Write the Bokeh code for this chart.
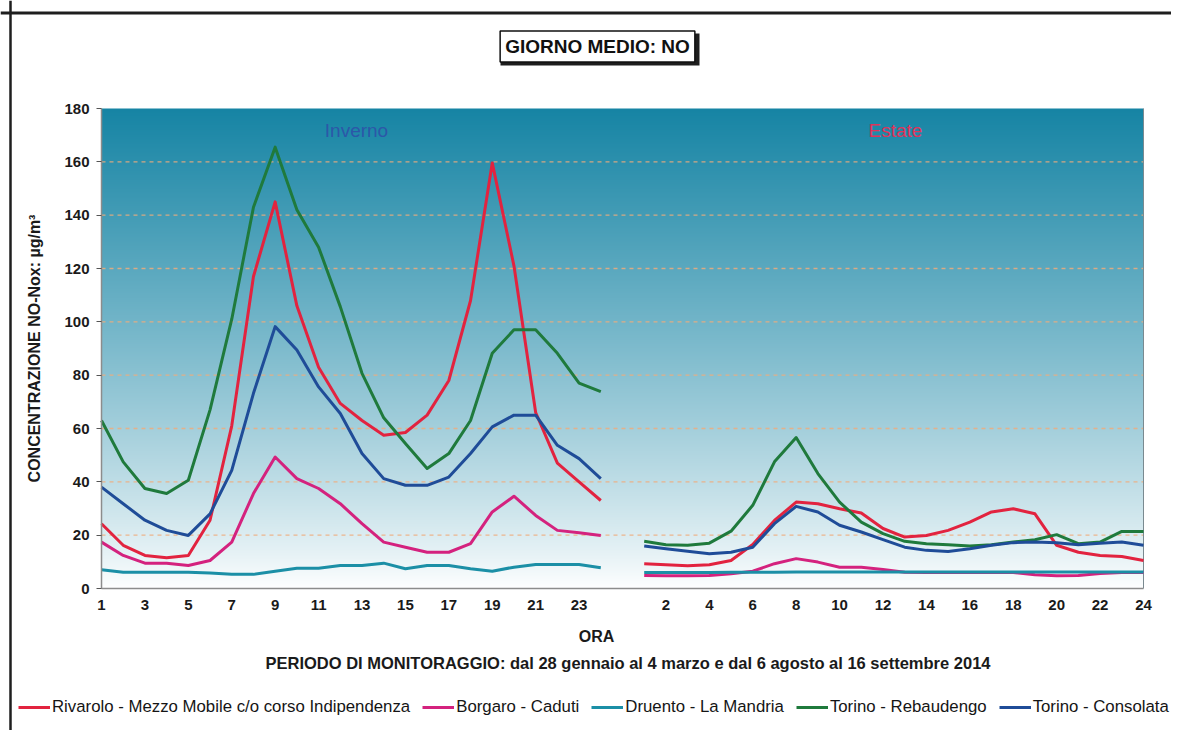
import numpy as np
from bokeh.plotting import figure
from bokeh.models import (Range1d, FixedTicker, Label, Legend, LegendItem,
                          ColumnDataSource, BoxAnnotation, Span)
from bokeh.embed import file_html
from bokeh.resources import INLINE

# ---------------- data ----------------
hours = list(range(1, 25))

stations = ["Rivarolo - Mezzo Mobile c/o corso Indipendenza", "Borgaro - Caduti",
            "Druento - La Mandria", "Torino - Rebaudengo", "Torino - Consolata"]
colors = ["#e2233f", "#d4227e", "#1b8fa6", "#1f7a3c", "#1f4c98"]

# Inverno (winter)
w_rivarolo = [24.3, 16.2, 12.4, 11.5, 12.4, 25.6, 61, 117, 145, 106, 83, 69.4,
              63, 57.5, 58.5, 65, 78, 108, 159.6, 121, 66, 47, 40, 33]
w_borgaro = [17.4, 12.4, 9.5, 9.5, 8.6, 10.5, 17.4, 35.6, 49.3, 41.2, 37.5, 31.8,
             24.3, 17.4, 15.5, 13.6, 13.6, 16.8, 28.7, 34.6, 27.4, 21.8, 20.9, 19.9]
w_druento = [7, 6.1, 6.1, 6.1, 6.1, 5.8, 5.3, 5.3, 6.5, 7.6, 7.6, 8.6,
             8.6, 9.5, 7.4, 8.6, 8.6, 7.4, 6.5, 8, 9, 9, 9, 7.8]
w_rebaudengo = [63, 47.5, 37.5, 35.6, 40.6, 67, 101, 143, 165.5, 142, 128, 105.7,
                80.7, 64, 54.4, 45, 50.6, 63, 88.2, 97, 97, 88.2, 77, 73.8]
w_consolata = [38, 31.8, 25.6, 21.8, 19.9, 28, 44.3, 73.2, 98.2, 89.4, 75.6, 65.6,
               50.6, 41.2, 38.7, 38.7, 41.8, 50.6, 60.6, 65, 65, 53.7, 48.7, 41.2]

# Estate (summer)
s_rivarolo = [9.3, 8.9, 8.5, 8.9, 10.5, 16.5, 25.5, 32.4, 31.8, 29.9, 28.3, 22.5,
              19.3, 19.9, 21.8, 24.9, 28.7, 29.9, 28, 16.2, 13.6, 12.4, 12, 10.5]
s_borgaro = [4.9, 4.8, 4.8, 4.9, 5.5, 6.5, 9.3, 11.2, 9.9, 8, 8, 7.1,
             6.1, 6.0, 6.0, 6.0, 6.0, 6.0, 5.2, 4.8, 4.9, 5.6, 6.0, 6.0]
s_druento = [6.0, 6.0, 6.0, 6.0, 6.1, 6.1, 6.1, 6.2, 6.2, 6.2, 6.2, 6.2,
             6.2, 6.2, 6.2, 6.2, 6.2, 6.2, 6.2, 6.2, 6.2, 6.2, 6.2, 6.2]
s_rebaudengo = [17.7, 16.4, 16.2, 17, 21.5, 31.2, 47.5, 56.6, 43.1, 32.4, 24.9, 20.6,
                17.7, 16.8, 16.4, 15.9, 16.4, 17.4, 18.3, 20.2, 16.8, 17.4, 21.4, 21.4]
s_consolata = [15.9, 14.9, 14, 13, 13.6, 15.5, 24.3, 30.8, 28.7, 23.7, 21.2, 18.3,
               15.5, 14.3, 13.9, 14.9, 16.2, 17.2, 17.4, 17.2, 16.4, 17, 17.4, 16.2]

winter = [w_rivarolo, w_borgaro, w_druento, w_rebaudengo, w_consolata]
summer = [s_rivarolo, s_borgaro, s_druento, s_rebaudengo, s_consolata]

winter_tick_hours = [1, 3, 5, 7, 9, 11, 13, 15, 17, 19, 21, 23]
summer_tick_hours = [2, 4, 6, 8, 10, 12, 14, 16, 18, 20, 22, 24]
y_ticks = [0, 20, 40, 60, 80, 100, 120, 140, 160, 180]
Y_MAX = 180

# ---------------- positions (category index) ----------------
GAP = 1  # one empty category between the two periods
x_w = [h - 1 for h in hours]
x_s = [h - 1 + 24 + GAP for h in hours]
x_all = x_w + [np.nan] + x_s
x_max = x_s[-1]

# canvas 1171x730; plot area spans 101..1143 px horizontally and 108..588 px vertically
W, H = 1171, 730
PA_L, PA_R, PA_T, PA_B = 101, 1143, 108, 588
sx = (PA_R - PA_L) / x_max
sy = (PA_B - PA_T) / Y_MAX
x_range = Range1d(-PA_L / sx, (W - PA_L) / sx)
y_range = Range1d(-(H - PA_B) / sy, PA_B / sy)


def px_x(px):  # canvas px -> data x (layout helper for annotations)
    return (px - PA_L) / sx


def px_y(py):
    return (PA_B - py) / sy


p = figure(width=W, height=H, x_range=x_range, y_range=y_range,
           output_backend="svg", toolbar_location=None, min_border=0)
p.background_fill_color = "white"
p.border_fill_color = "white"
p.outline_line_color = None
p.xgrid.visible = False
p.ygrid.visible = False

# gradient background of the plot area
rows = 480
t = np.linspace(0.0, 1.0, rows)
f = t ** 0.85
top_rgb = np.array([22.0, 132.0, 164.0])
col = 255.0 * (1 - f)[:, None] + top_rgb[None, :] * f[:, None]
img = np.empty((rows, 2), dtype=np.uint32)
view = img.view(dtype=np.uint8).reshape((rows, 2, 4))
for k in range(3):
    view[:, :, k] = np.round(col[:, k])[:, None].astype(np.uint8)
view[:, :, 3] = 255
p.image_rgba(image=[img], x=0, y=0, dw=x_max, dh=Y_MAX, level="image")

# dashed horizontal gridlines inside the plot area
gy = y_ticks[1:-1]
p.segment(x0=[0] * len(gy), x1=[x_max] * len(gy), y0=gy, y1=gy,
          line_color="#f0ac7c", line_dash="4 4", line_width=1.4, line_alpha=0.85,
          level="underlay")

# right edge of the plot area
p.segment(x0=[x_max], x1=[x_max], y0=[0], y1=[Y_MAX], line_color="#7a8a90",
          line_width=1, level="underlay")

# axes (drawn at the plot-area edges)
tick_pos = [h - 1 for h in winter_tick_hours] + [h - 1 + 24 + GAP for h in summer_tick_hours]
tick_lab = [str(h) for h in winter_tick_hours] + [str(h) for h in summer_tick_hours]
p.xaxis.fixed_location = 0
p.xaxis.bounds = (0, x_max)
p.xaxis.ticker = FixedTicker(ticks=tick_pos)
p.xaxis.major_label_overrides = {pos: lab for pos, lab in zip(tick_pos, tick_lab)}
p.xaxis.major_tick_out = 0
p.xaxis.major_tick_in = 0
p.xaxis.minor_tick_line_color = None
p.xaxis.axis_line_color = "#8c8c8c"
p.xaxis.axis_line_width = 1.5
p.xaxis.major_label_standoff = 11
p.xaxis.major_label_text_font = "Liberation Sans"
p.xaxis.major_label_text_font_style = "bold"
p.xaxis.major_label_text_font_size = "15px"
p.xaxis.major_label_text_color = "#1a1a1a"

p.yaxis.fixed_location = 0
p.yaxis.bounds = (0, Y_MAX)
p.yaxis.ticker = FixedTicker(ticks=y_ticks)
p.yaxis.major_tick_out = 5
p.yaxis.major_tick_in = 0
p.yaxis.major_tick_line_color = "#555555"
p.yaxis.minor_tick_line_color = None
p.yaxis.axis_line_color = "#8c8c8c"
p.yaxis.axis_line_width = 1.5
p.yaxis.major_label_standoff = 7
p.yaxis.major_label_text_font = "Liberation Sans"
p.yaxis.major_label_text_font_style = "bold"
p.yaxis.major_label_text_font_size = "15px"
p.yaxis.major_label_text_color = "#1a1a1a"
p.yaxis.axis_label = "CONCENTRAZIONE NO-Nox: \u00b5g/m\u00b3"
p.yaxis.axis_label_text_font = "Liberation Sans"
p.yaxis.axis_label_text_font_style = "bold"
p.yaxis.axis_label_text_font_size = "16px"
p.yaxis.axis_label_text_color = "#1a1a1a"
p.yaxis.axis_label_standoff = 18

# lines
renderers = []
for name, c, w, s in zip(stations, colors, winter, summer):
    src = ColumnDataSource(dict(x=x_all, y=list(w) + [np.nan] + list(s)))
    r = p.line("x", "y", source=src, line_color=c, line_width=3, line_join="round")
    renderers.append(r)

legend = Legend(items=[LegendItem(label=n, renderers=[r]) for n, r in zip(stations, renderers)],
                orientation="horizontal", location=(18, H - 717),
                glyph_width=32, glyph_height=20, label_standoff=2, spacing=12,
                padding=0, margin=0, border_line_color=None, background_fill_alpha=0,
                label_text_font="Liberation Sans", label_text_font_size="16.8px",
                label_text_color="#151515", label_height=20)
p.add_layout(legend)

# outer frame (top and left edges of the scanned page)
p.add_layout(Span(location=px_y(12.5), dimension="width", line_color="#1e1e1e", line_width=3))
p.add_layout(Span(location=px_x(10), dimension="height", line_color="#1e1e1e", line_width=2.5))

# period labels
p.add_layout(Label(x=px_x(356), y=px_y(130), text="Inverno", text_align="center",
                   text_baseline="middle", text_font="Liberation Sans", text_font_size="19px",
                   text_color="#2c57a8"))
p.add_layout(Label(x=px_x(895), y=px_y(130), text="Estate", text_align="center",
                   text_baseline="middle", text_font="Liberation Sans", text_font_size="19px",
                   text_color="#e0335a"))

# title box with shadow
p.add_layout(BoxAnnotation(left=px_x(500), right=px_x(699), bottom=px_y(65), top=px_y(33),
                           fill_color="#1e1e1e", fill_alpha=1, line_color=None))
p.add_layout(Label(x=px_x(597), y=px_y(46), text="GIORNO MEDIO: NO", text_align="center",
                   text_baseline="middle", text_font="Liberation Sans", text_font_style="bold",
                   text_font_size="19px", text_color="#111111", background_fill_color="white",
                   border_line_color="#111111", border_line_width=1.5, padding=5))

# x axis title and monitoring period
p.add_layout(Label(x=px_x(596), y=px_y(636), text="ORA", text_align="center",
                   text_baseline="middle", text_font="Liberation Sans", text_font_style="bold",
                   text_font_size="16px", text_color="#1a1a1a"))
p.add_layout(Label(x=px_x(627.5), y=px_y(662),
                   text="PERIODO DI MONITORAGGIO: dal 28 gennaio al 4 marzo e dal 6 agosto al 16 settembre 2014",
                   text_align="center", text_baseline="middle", text_font="Liberation Sans",
                   text_font_style="bold", text_font_size="16.5px", text_color="#1a1a1a"))

open("out.html", "w").write(file_html(p, INLINE))
